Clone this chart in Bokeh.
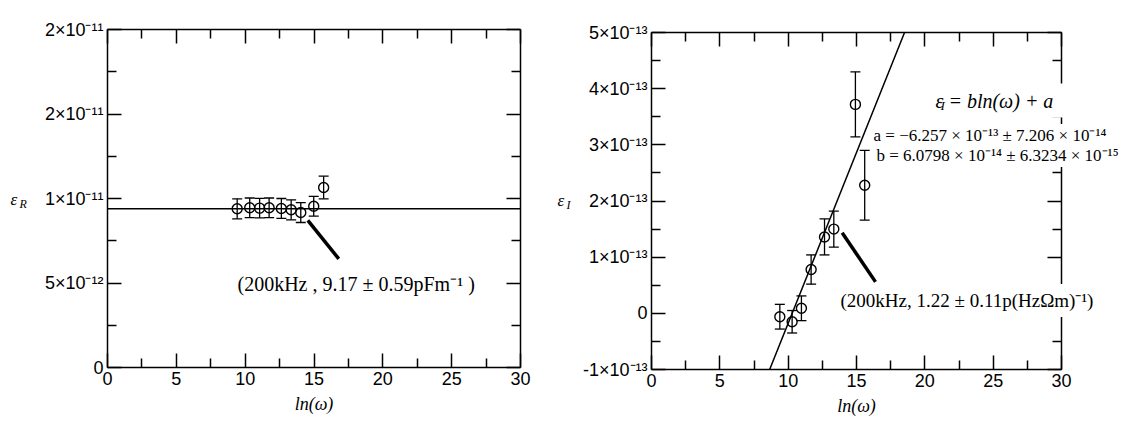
from bokeh.plotting import figure
from bokeh.models import (FixedTicker, LinearAxis, Range1d, Whisker, TeeHead, Label,
                          ColumnDataSource, CustomJSTickFormatter)
from bokeh.layouts import row
from bokeh.embed import file_html
from bokeh.resources import INLINE

# ---------------- data: left panel (epsilon_R) ----------------
x_R = [9.42, 10.33, 11.05, 11.74, 12.63, 13.34, 14.04, 14.98, 15.70]
eps_R = [9.39e-12, 9.45e-12, 9.43e-12, 9.45e-12, 9.41e-12, 9.33e-12, 9.17e-12, 9.54e-12, 10.65e-12]
err_R = [0.59e-12, 0.58e-12, 0.58e-12, 0.58e-12, 0.59e-12, 0.59e-12, 0.59e-12, 0.58e-12, 0.67e-12]
fit_R = 9.39e-12
ptr_R = dict(x0=[14.55], y0=[8.70e-12], x1=[16.80], y1=[6.43e-12])

yrange_R = (0, 2e-11)
yticks_R = [0, 5e-12, 1e-11, 1.5e-11, 2e-11]
yminor_R = [2.5e-12, 7.5e-12, 1.25e-11, 1.75e-11]
ylabels_R = ["0", "5×10⁻¹²", "1×10⁻¹¹", "2×10⁻¹¹", "2×10⁻¹¹"]

# ---------------- data: right panel (epsilon_I) ----------------
x_I = [9.39, 10.29, 10.97, 11.68, 12.66, 13.34, 14.92, 15.60]
eps_I = [-0.06e-13, -0.15e-13, 0.09e-13, 0.78e-13, 1.36e-13, 1.50e-13, 3.72e-13, 2.28e-13]
err_I = [0.22e-13, 0.20e-13, 0.22e-13, 0.26e-13, 0.32e-13, 0.32e-13, 0.58e-13, 0.62e-13]
fit_a = -6.257e-13
fit_b = 6.0798e-14
ptr_I = dict(x0=[13.95], y0=[1.435e-13], x1=[16.39], y1=[0.56e-13])

yrange_I = (-1e-13, 5e-13)
yticks_I = [-1e-13, 0, 1e-13, 2e-13, 3e-13, 4e-13, 5e-13]
yminor_I = [-0.5e-13, 0.5e-13, 1.5e-13, 2.5e-13, 3.5e-13, 4.5e-13]
ylabels_I = ["-1×10⁻¹³", "0", "1×10⁻¹³", "2×10⁻¹³", "3×10⁻¹³", "4×10⁻¹³", "5×10⁻¹³"]

xrange_all = (0, 30)
xticks = [0, 5, 10, 15, 20, 25, 30]
xminor = [2.5, 7.5, 12.5, 17.5, 22.5, 27.5]
xlabels = ["0", "5", "10", "15", "20", "25", "30"]

SANS = "Liberation Sans"
SERIF = "Liberation Serif"
LW = 1.5
FIG_H = 437


def style_axis(ax, ticks, minor, labels=None):
    ax.ticker = FixedTicker(ticks=ticks, minor_ticks=minor)
    ax.axis_line_color = "black"
    ax.axis_line_width = LW
    ax.major_tick_in = 14
    ax.major_tick_out = 0
    ax.minor_tick_in = 9
    ax.minor_tick_out = 0
    ax.major_tick_line_width = LW
    ax.minor_tick_line_width = LW
    ax.major_tick_line_color = "black"
    ax.minor_tick_line_color = "black"
    ax.major_label_text_font = SANS
    ax.major_label_text_font_size = "18px"
    ax.major_label_text_color = "black"
    ax.major_label_standoff = 4
    if labels is None:
        ax.formatter = CustomJSTickFormatter(code="return ''")
    else:
        ax.major_label_overrides = {t: l for t, l in zip(ticks, labels)}


class Panel:
    """A figure whose frame fills the canvas; the boxed axes sit at fixed pixel positions."""

    def __init__(self, width, fx0, fx1, fy0, fy1, xr, yr, yticks, yminor, ylabels, origin=0):
        self.fx0, self.fx1, self.fy0, self.fy1 = fx0, fx1, fy0, fy1
        self.xr, self.yr, self.origin = xr, yr, origin
        sx = (xr[1] - xr[0]) / (fx1 - fx0)
        sy = (yr[1] - yr[0]) / (fy1 - fy0)
        p = figure(width=width, height=FIG_H, title=None,
                   x_range=Range1d(xr[0] - fx0 * sx, xr[1] + (width - fx1) * sx),
                   y_range=Range1d(yr[0] - (FIG_H - fy1) * sy, yr[1] + fy0 * sy),
                   x_axis_location=None, y_axis_location=None,
                   output_backend="svg", toolbar_location=None,
                   min_border=0, min_border_left=0, min_border_right=0,
                   min_border_top=0, min_border_bottom=0)
        p.grid.visible = False
        p.outline_line_color = None
        p.background_fill_color = "white"
        p.border_fill_color = "white"

        b = LinearAxis(fixed_location=yr[0], bounds=xr)
        style_axis(b, xticks, xminor, xlabels)
        b.axis_label = "ln(ω)"
        b.axis_label_text_font = SERIF
        b.axis_label_text_font_style = "italic"
        b.axis_label_text_font_size = "18px"
        b.axis_label_text_color = "black"
        b.axis_label_standoff = 6
        p.add_layout(b, "below")
        t = LinearAxis(fixed_location=yr[1], bounds=xr)
        style_axis(t, xticks, xminor)
        t.major_label_standoff = 0
        p.add_layout(t, "above")
        l = LinearAxis(fixed_location=xr[0], bounds=yr)
        style_axis(l, yticks, yminor, ylabels)
        p.add_layout(l, "left")
        r = LinearAxis(fixed_location=xr[1], bounds=yr)
        style_axis(r, yticks, yminor)
        r.major_label_standoff = 0
        p.add_layout(r, "right")
        self.p = p

    # page-pixel -> data helpers (used only to place text annotations)
    def X(self, px):
        px -= self.origin
        return self.xr[0] + (px - self.fx0) * (self.xr[1] - self.xr[0]) / (self.fx1 - self.fx0)

    def Y(self, py):
        return self.yr[1] - (py - self.fy0) * (self.yr[1] - self.yr[0]) / (self.fy1 - self.fy0)

    def text(self, px, py, txt, size, italic=False, bg=False, pad=0, xo=0, yo=0):
        kw = dict(background_fill_color="white", padding=pad) if bg else {}
        self.p.add_layout(Label(x=self.X(px), y=self.Y(py), x_offset=xo, y_offset=yo, text=txt,
                                text_font=SERIF, text_font_size=f"{size}px",
                                text_font_style="italic" if italic else "normal",
                                text_color="black", text_baseline="middle",
                                text_align="left", **kw))


def points(p, xs, ys, es):
    src = ColumnDataSource(dict(x=xs, y=ys,
                                lo=[y - e for y, e in zip(ys, es)],
                                hi=[y + e for y, e in zip(ys, es)]))
    w = Whisker(base="x", upper="hi", lower="lo", source=src, dimension="height",
                line_color="black", line_width=1.3,
                upper_head=TeeHead(size=10, line_color="black", line_width=1.3),
                lower_head=TeeHead(size=10, line_color="black", line_width=1.3))
    p.add_layout(w)
    p.scatter("x", "y", source=src, marker="circle", size=10, fill_color=None,
              line_color="black", line_width=1.4)


# ---------------- left panel ----------------
L = Panel(550, 107, 520, 29, 367, xrange_all, yrange_R, yticks_R, yminor_R, ylabels_R)
L.p.line(x=list(xrange_all), y=[fit_R, fit_R], line_color="black", line_width=1.5)
points(L.p, x_R, eps_R, err_R)
L.p.segment(x0=ptr_R["x0"], y0=ptr_R["y0"], x1=ptr_R["x1"], y1=ptr_R["y1"],
            line_color="black", line_width=3.5)
L.text(233, 283, "(200kHz , 9.17 ± 0.59pFm⁻¹ )", 20, bg=True, pad=4)
L.text(10, 199, "ε", 17, italic=True)
L.text(10, 199, "R", 12, italic=True, xo=9, yo=-4)

# ---------------- right panel ----------------
R = Panel(573, 101, 511, 32, 369, xrange_all, yrange_I, yticks_I, yminor_I, ylabels_I, origin=550)
# fit line eps = b*ln(w) + a, kept inside the plot box
x_fit = [max(xrange_all[0], (yrange_I[0] - fit_a) / fit_b),
         min(xrange_all[1], (yrange_I[1] - fit_a) / fit_b)]
R.p.line(x=x_fit, y=[fit_a + fit_b * x for x in x_fit], line_color="black", line_width=1.5)
points(R.p, x_I, eps_I, err_I)
R.p.segment(x0=ptr_I["x0"], y0=ptr_I["y0"], x1=ptr_I["x1"], y1=ptr_I["y1"],
            line_color="black", line_width=3.5)
R.text(834, 300, "(200kHz, 1.22 ± 0.11p(HzΩm)⁻¹)", 19, bg=True, pad=6)
R.text(929, 100, "ε     = bln(ω) + a", 20, italic=True, bg=True, pad=6)
R.text(929, 100, "I", 13, italic=True, xo=11, yo=-5)
R.text(871, 135, "a = −6.257 × 10⁻¹³ ± 7.206  × 10⁻¹⁴", 17, bg=True, pad=2)
R.text(874, 155, "b = 6.0798 × 10⁻¹⁴ ± 6.3234 × 10⁻¹⁵", 17, bg=True, pad=2)
R.text(557, 200, "ε", 17, italic=True)
R.text(557, 200, "I", 12, italic=True, xo=9, yo=-4)

layout = row(L.p, R.p)
open("out.html", "w").write(file_html(layout, INLINE))
